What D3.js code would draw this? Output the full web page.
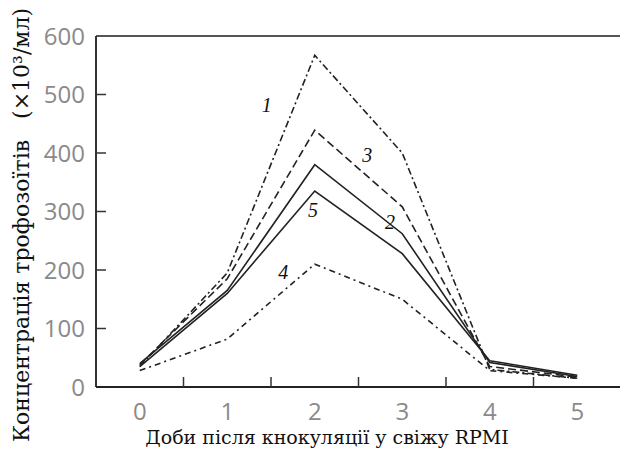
<!DOCTYPE html>
<html lang="uk">
<head>
<meta charset="UTF-8">
<title>Концентрація трофозоїтів</title>
<script src="https://cdnjs.cloudflare.com/ajax/libs/d3/7.8.5/d3.min.js"></script>
<style>
  body { margin: 0; background: #fff; }
  .tick-label { font-family: "Open Sans", sans-serif; font-size: 24px; fill: #8a8a8a; }
  .title { font-family: "DejaVu Serif", serif; fill: #111; white-space: pre; }
  .curve { fill: none; stroke: #222; stroke-width: 1.6; }
  .num { font-family: "Liberation Serif", serif; font-style: italic; font-size: 20px; fill: #111; }
</style>
</head>
<body>
<div id="chart"></div>
<script>
  const width = 620, height = 457;

  const days = [0, 1, 2, 3, 4, 5];
  const yTicks = [0, 100, 200, 300, 400, 500, 600];

  // concentration (x10^3/ml) per day, one array per curve
  const curve1 = [35, 195, 567, 400, 30, 15];
  const curve2 = [40, 165, 380, 262, 42, 18];
  const curve3 = [38, 185, 439, 308, 35, 17];
  const curve4 = [28, 82, 210, 150, 28, 15];
  const curve5 = [35, 160, 335, 228, 45, 20];

  const curves = [
    {id: "1", values: curve1, dash: "7,3,2,3"},
    {id: "3", values: curve3, dash: "8,4"},
    {id: "2", values: curve2, dash: null},
    {id: "5", values: curve5, dash: null},
    {id: "4", values: curve4, dash: "6,4,2,4"}
  ];

  // curve numbers written next to the lines: [day, value]
  const labels = [
    {id: "1", at: [1.45, 482]},
    {id: "3", at: [2.6, 397]},
    {id: "2", at: [2.86, 282]},
    {id: "5", at: [1.98, 302]},
    {id: "4", at: [1.64, 197]}
  ];

  const svg = d3.select("#chart").append("svg")
    .attr("width", width)
    .attr("height", height);

  const x = d3.scaleLinear().domain([-0.5, 5.5]).range([96, 621]);
  const y = d3.scaleLinear().domain([0, 600]).range([387, 36]);

  // frame: top, left, bottom
  svg.append("line").attr("x1", 96).attr("x2", 620).attr("y1", y(600)).attr("y2", y(600))
    .attr("stroke", "#555").attr("stroke-width", 2.2);
  svg.append("line").attr("x1", 96).attr("x2", 96).attr("y1", y(600)).attr("y2", y(0))
    .attr("stroke", "#333").attr("stroke-width", 2);
  svg.append("line").attr("x1", 96).attr("x2", 620).attr("y1", y(0)).attr("y2", y(0))
    .attr("stroke", "#222").attr("stroke-width", 2);

  // y ticks (inward) and labels
  yTicks.filter(v => v > 0 && v < 600).forEach(v => {
    svg.append("line").attr("x1", 96).attr("x2", 106).attr("y1", y(v)).attr("y2", y(v))
      .attr("stroke", "#333").attr("stroke-width", 1.5);
  });
  svg.selectAll(".ylab").data(yTicks).enter().append("text")
    .attr("class", "tick-label")
    .attr("x", 85)
    .attr("y", d => y(d))
    .attr("dy", "0.36em")
    .attr("text-anchor", "end")
    .text(d => d);

  // x ticks between days, labels at day centres
  days.slice(1).forEach(d => {
    svg.append("line").attr("x1", x(d - 0.5)).attr("x2", x(d - 0.5))
      .attr("y1", y(0)).attr("y2", y(0) - 10)
      .attr("stroke", "#333").attr("stroke-width", 1.5);
  });
  svg.selectAll(".xlab").data(days).enter().append("text")
    .attr("class", "tick-label")
    .attr("x", d => x(d))
    .attr("y", 411)
    .attr("dy", "0.36em")
    .attr("text-anchor", "middle")
    .text(d => d);

  // curves
  const line = d3.line().x((d, i) => x(days[i])).y(d => y(d));
  svg.selectAll(".curve").data(curves).enter().append("path")
    .attr("class", "curve")
    .attr("d", d => line(d.values))
    .attr("stroke-dasharray", d => d.dash);

  svg.selectAll(".num").data(labels).enter().append("text")
    .attr("class", "num")
    .attr("x", d => x(d.at[0]))
    .attr("y", d => y(d.at[1]))
    .attr("dy", "0.35em")
    .attr("text-anchor", "middle")
    .text(d => d.id);

  // axis titles
  svg.append("text")
    .attr("class", "title")
    .attr("transform", "translate(29,225) rotate(-90)")
    .attr("text-anchor", "middle")
    .attr("font-size", 22)
    .text("Концентрація трофозоїтів   (×10³/мл)");

  svg.append("text")
    .attr("class", "title")
    .attr("x", 327)
    .attr("y", 444)
    .attr("text-anchor", "middle")
    .attr("font-size", 19)
    .text("Доби після кнокуляції у свіжу RPMI");
</script>
</body>
</html>
